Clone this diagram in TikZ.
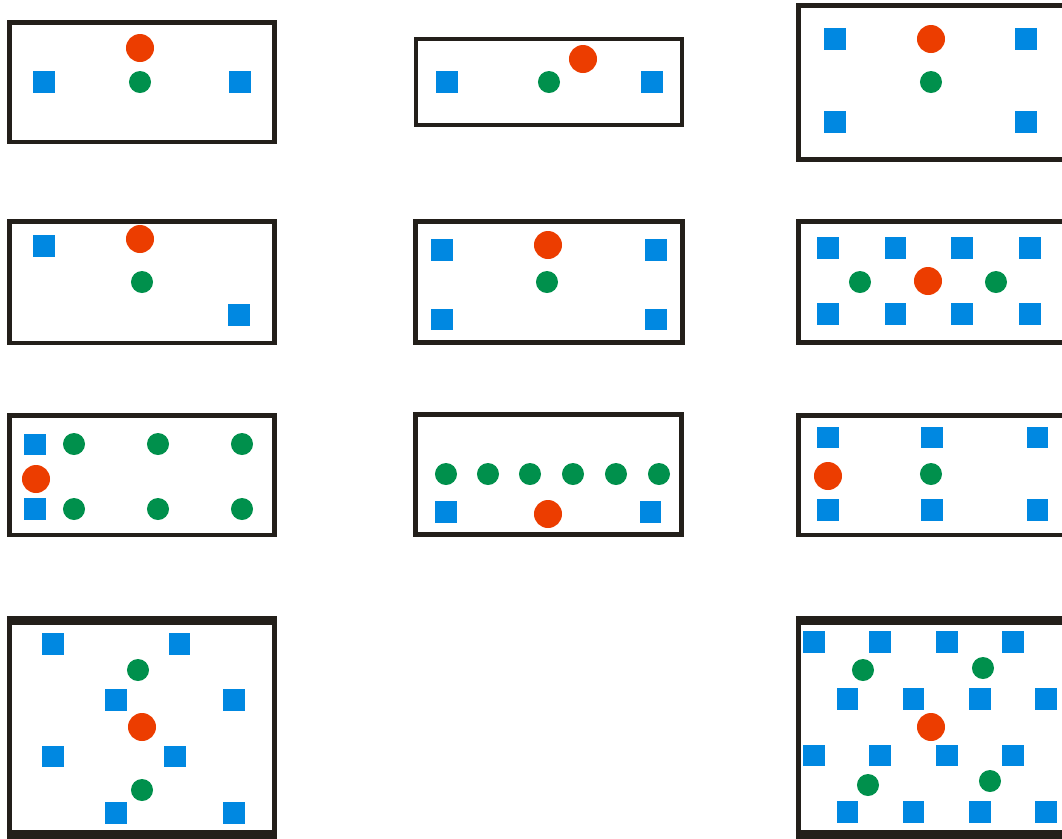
\documentclass[tikz,border=0pt]{standalone}
\usepackage{xcolor}
\usetikzlibrary{calc, positioning}

\definecolor{framegray}{HTML}{231F1A}
\definecolor{sqblue}{HTML}{0088E1}
\definecolor{dotgreen}{HTML}{00904C}
\definecolor{dotred}{HTML}{EC3D00}

\tikzset{
  frame/.style={draw=framegray, line width=0.045cm},
  thickframe/.style={draw=framegray, line width=0.09cm},
  bluesq/.style={rectangle, fill=sqblue, inner sep=0pt, minimum size=0.215cm},
  greendot/.style={circle, fill=dotgreen, inner sep=0pt, minimum size=0.22cm},
  reddot/.style={circle, fill=dotred, inner sep=0pt, minimum size=0.28cm}
}

\begin{document}
\begin{tikzpicture}[x=0.01cm, y=-0.01cm]
\useasboundingbox (0,0) rectangle (1062,838);

% Row 1, left
\draw[frame] (9.25,22.25) rectangle (274.75,141.75);
\node[reddot] (r1) at (140,48) {};
\node[greendot] (g1) at (140,82) {};
\node[bluesq] (b1a) at (44,82) {};
\node[bluesq] (b1b) at (240,82) {};

% Row 1, middle
\draw[frame] (416,39) rectangle (682,125);
\node[reddot] (r2) at (583,59) {};
\node[greendot] (g2) at (549,82) {};
\node[bluesq] (b2a) at (447,82) {};
\node[bluesq] (b2b) at (652,82) {};

% Row 1, right
\draw[frame] (798.5,5.5) rectangle (1068,159.5);
\node[reddot] (r3) at (931,39) {};
\node[greendot] (g3) at (931,82) {};
\node[bluesq] (b3a) at (835,39) {};
\node[bluesq] (b3b) at (1026,39) {};
\node[bluesq] (b3c) at (835,122) {};
\node[bluesq] (b3d) at (1026,122) {};

% Row 2, left
\draw[frame] (9.25,221.25) rectangle (274.75,342.75);
\node[reddot] (r4) at (140,239) {};
\node[greendot] (g4) at (142,282) {};
\node[bluesq] (b4a) at (44,246) {};
\node[bluesq] (b4b) at (239,315) {};

% Row 2, middle
\draw[frame] (415.5,221.5) rectangle (682.5,342.5);
\node[reddot] (r5) at (548,245) {};
\node[greendot] (g5) at (547,282) {};
\node[bluesq] (b5a) at (442,250) {};
\node[bluesq] (b5b) at (656,250) {};
\node[bluesq] (b5c) at (442,319.5) {};
\node[bluesq] (b5d) at (656,319.5) {};

% Row 2, right
\draw[frame] (798.5,221.5) rectangle (1068,342.5);
\foreach \x [count=\i] in {828,895.5,962,1030} {
  \node[bluesq] (b6t\i) at (\x,248) {};
  \node[bluesq] (b6b\i) at (\x,314) {};
}
\node[greendot] (g6a) at (860,282) {};
\node[greendot] (g6b) at (996,282) {};
\node[reddot] (r6) at (928,281) {};

% Row 3, left
\draw[frame] (9.25,415.25) rectangle (274.75,534.75);
\node[bluesq] (b7a) at (35,444.5) {};
\node[bluesq] (b7b) at (35,509) {};
\node[reddot] (r7) at (36,479) {};
\foreach \x [count=\i] in {74,158,242} {
  \node[greendot] (g7t\i) at (\x,444) {};
  \node[greendot] (g7b\i) at (\x,509) {};
}

% Row 3, middle
\draw[frame] (415.5,414.5) rectangle (681.5,534.5);
\foreach \x [count=\i] in {446,488,530,573,616,659}
  \node[greendot] (g8\i) at (\x,474) {};
\node[bluesq] (b8a) at (446,512) {};
\node[bluesq] (b8b) at (650.5,512) {};
\node[reddot] (r8) at (548,514) {};

% Row 3, right
\draw[frame] (798.5,415.5) rectangle (1068,535);
\foreach \x [count=\i] in {828,932,1037.5} {
  \node[bluesq] (b9t\i) at (\x,437.5) {};
  \node[bluesq] (b9b\i) at (\x,510) {};
}
\node[reddot] (r9) at (828,476) {};
\node[greendot] (g9) at (931,474) {};

% Row 4, left
\draw[frame] (9.25,620) rectangle (274.75,834);
\draw[thickframe] (7,620.5) -- (277,620.5);
\draw[thickframe] (7,834) -- (277,834);
\node[bluesq] (b10a) at (53,644) {};
\node[bluesq] (b10b) at (179.5,644) {};
\node[bluesq] (b10c) at (116,700) {};
\node[bluesq] (b10d) at (234,700) {};
\node[bluesq] (b10e) at (53,756.5) {};
\node[bluesq] (b10f) at (175,756.5) {};
\node[bluesq] (b10g) at (116,813) {};
\node[bluesq] (b10h) at (234,813) {};
\node[greendot] (g10a) at (138,670) {};
\node[greendot] (g10b) at (142,790) {};
\node[reddot] (r10) at (142,727) {};

% Row 4, right
\draw[frame] (798.5,620) rectangle (1068,834);
\draw[thickframe] (796,620.5) -- (1068,620.5);
\draw[thickframe] (796,834) -- (1068,834);
\foreach \x [count=\i] in {814,880,947,1013} {
  \node[bluesq] (b11r\i) at (\x,642) {};
  \node[bluesq] (b11s\i) at (\x,755.5) {};
}
\foreach \x [count=\i] in {847.5,913.5,980,1046} {
  \node[bluesq] (b11t\i) at (\x,699) {};
  \node[bluesq] (b11u\i) at (\x,812) {};
}
\node[greendot] (g11a) at (863,670) {};
\node[greendot] (g11b) at (983,668) {};
\node[greendot] (g11c) at (868,785) {};
\node[greendot] (g11d) at (990,781) {};
\node[reddot] (r11) at (931,727) {};
\end{tikzpicture}
\end{document}
